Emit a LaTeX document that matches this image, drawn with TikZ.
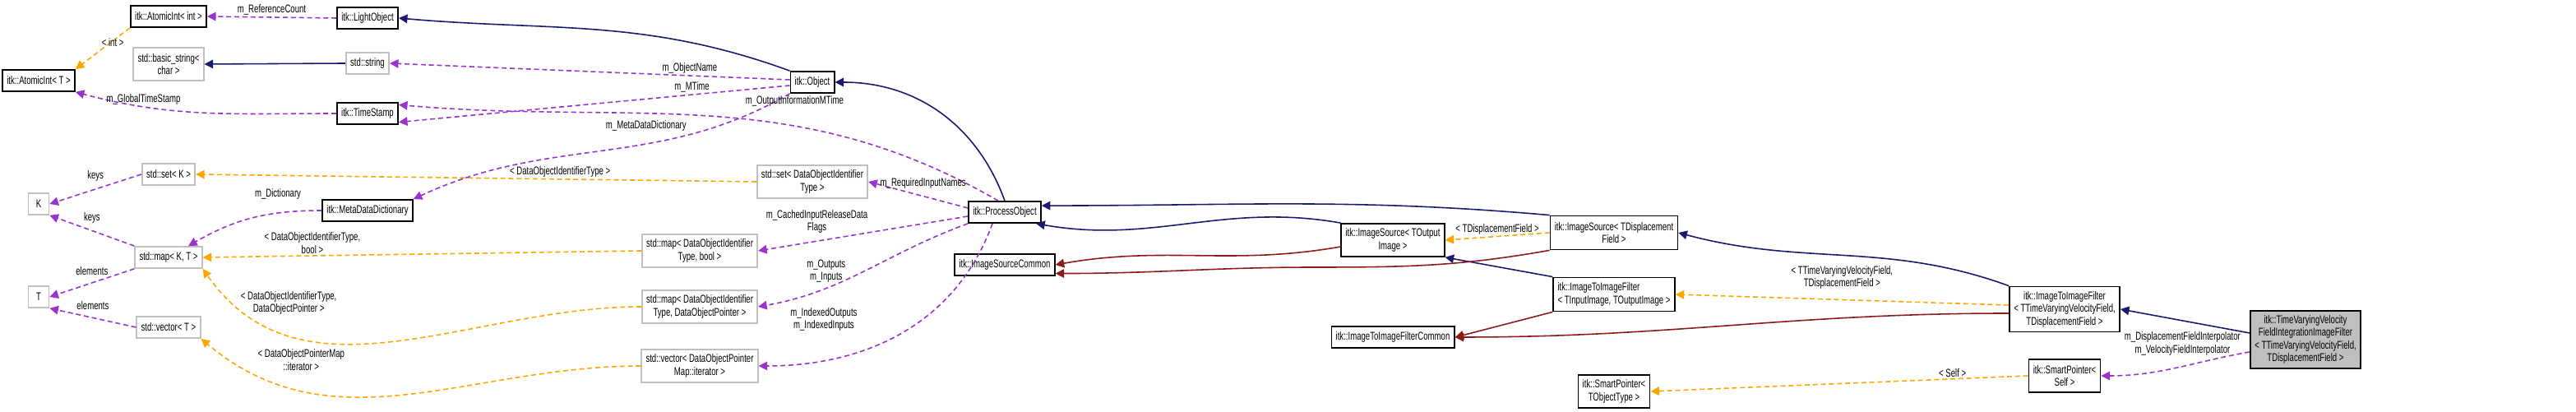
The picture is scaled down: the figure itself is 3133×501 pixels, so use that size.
\documentclass[tikz,border=0pt]{standalone}
\usepackage{fontspec}
\setmainfont{Liberation Sans}[FakeStretch=0.7]
\usetikzlibrary{arrows.meta,positioning}
\definecolor{mypurple}{HTML}{9A32CD}
\definecolor{myorange}{HTML}{FFA500}
\definecolor{mynavy}{HTML}{191970}
\definecolor{myred}{HTML}{8B1A1A}
\tikzset{
  cls/.style={draw=black, line width=0.5pt, fill=white, inner sep=1.5pt, align=center, minimum height=0.26cm,
    font=\fontsize{3.9}{4.4}\selectfont},
  ext/.style={cls, draw=black!25},
  lbl/.style={align=center, font=\fontsize{3.9}{4.4}\selectfont, inner sep=0.5pt},
  use/.style={draw=mypurple, dash pattern=on 1.7pt off 1.1pt, line width=0.45pt, -{Triangle[length=3pt,width=3pt]}},
  tmpl/.style={draw=myorange, dash pattern=on 1.7pt off 1.1pt, line width=0.45pt, -{Triangle[length=3pt,width=3pt]}},
  pub/.style={draw=mynavy, line width=0.45pt, -{Triangle[length=3pt,width=3pt]}},
  prot/.style={draw=myred, line width=0.45pt, -{Triangle[length=3pt,width=3pt]}},
}
\begin{document}
\begin{tikzpicture}[x=0.01cm, y=-0.01cm]
  \useasboundingbox (0,0) rectangle (3133,501);

  % left column
  \node[cls, minimum width=0.87cm] (atomicT) at (47,98) {itk::AtomicInt< T >};
  \node[ext, minimum width=0.25cm] (K) at (47,248) {K};
  \node[ext, minimum width=0.25cm] (T) at (47,361) {T};

  \node[cls, minimum width=0.91cm] (atomicint) at (205,20) {itk::AtomicInt< int >};
  \node[ext, minimum width=0.83cm, minimum height=0.40cm] (bstring) at (205,78) {std::basic\_string<\\char >};
  \node[ext, minimum width=0.64cm] (setK) at (205,212) {std::set< K >};
  \node[ext, minimum width=0.81cm] (mapKT) at (205,313) {std::map< K, T >};
  \node[ext, minimum width=0.76cm] (vecT) at (205,398) {std::vector< T >};

  \node[cls, minimum width=0.72cm] (light) at (447,22) {itk::LightObject};
  \node[ext, minimum width=0.52cm] (string) at (447,77) {std::string};
  \node[cls, minimum width=0.72cm] (stamp) at (447,138) {itk::TimeStamp};
  \node[cls, minimum width=1.05cm] (meta) at (447,256) {itk::MetaDataDictionary};

  % middle column
  \node[ext, minimum width=1.24cm, minimum height=0.40cm] (mapbool) at (851,305) {std::map< DataObjectIdentifier\\Type, bool >};
  \node[ext, minimum width=1.24cm, minimum height=0.40cm] (mapptr) at (851,373) {std::map< DataObjectIdentifier\\Type, DataObjectPointer >};
  \node[ext, minimum width=1.24cm, minimum height=0.40cm] (vecmap) at (851,445) {std::vector< DataObjectPointer\\Map::iterator >};

  \node[cls, minimum width=0.50cm] (object) at (988,100) {itk::Object};
  \node[ext, minimum width=1.20cm, minimum height=0.40cm] (setid) at (988,221) {std::set< DataObjectIdentifier\\Type >};

  \node[cls, minimum width=0.80cm] (process) at (1222,258) {itk::ProcessObject};
  \node[cls, minimum width=1.08cm] (srccommon) at (1222,322) {itk::ImageSourceCommon};

  % right part
  \node[cls, minimum width=1.18cm, minimum height=0.40cm] (srcout) at (1694,292) {itk::ImageSource< TOutput\\Image >};
  \node[cls, minimum width=1.40cm] (filtcommon) at (1694,410) {itk::ImageToImageFilterCommon};

  \node[cls, minimum width=1.44cm, minimum height=0.41cm] (srcdisp) at (1963,283) {itk::ImageSource< TDisplacement\\Field >};
  \node[cls, minimum width=1.38cm, minimum height=0.41cm, align=left] (filtio) at (1963,358) {itk::ImageToImageFilter\\< TInputImage, TOutputImage >};
  \node[cls, minimum width=0.84cm, minimum height=0.40cm] (smartT) at (1963,476) {itk::SmartPointer<\\TObjectType >};

  \node[cls, minimum width=1.30cm, minimum height=0.55cm] (filtvel) at (2511,376) {itk::ImageToImageFilter\\< TTimeVaryingVelocityField,\\TDisplacementField >};
  \node[cls, minimum width=0.85cm, minimum height=0.40cm] (smartself) at (2511,457) {itk::SmartPointer<\\Self >};

  \node[cls, fill=black!25, minimum width=1.30cm, minimum height=0.70cm] (main) at (2804,413) {itk::TimeVaryingVelocity\\FieldIntegrationImageFilter\\< TTimeVaryingVelocityField,\\TDisplacementField >};

  % inheritance
  \draw[pub] (object.north west) to[out=160, in=-5] (light.east);
  \draw[pub] (string.west) -- (bstring.east);
  \draw[pub] (process.north) to[out=110, in=0] (object.east);
  \draw[pub] (srcdisp.north west) to[out=175, in=0] (process.10);
  \draw[pub] (srcout.north west) to[out=170, in=-10] (process.-20);
  \draw[pub] (filtio.north west) -- (srcout.south east);
  \draw[pub] (filtvel.north west) to[out=160, in=-15] (srcdisp.east);
  \draw[pub] (main.west) ++(0,-8) -- (filtvel.east);
  \draw[prot] (srcout.west) ++(0,8) to[out=190, in=10] (srccommon.east);
  \draw[prot] (srcdisp.south west) to[out=190, in=0] (1600,325) to[out=180, in=0] ([yshift=-3]srccommon.east);
  \draw[prot] (filtio.south west) -- ([yshift=-4]filtcommon.north east);
  \draw[prot] (filtvel.west) ++(0,5) to[out=180, in=0] (filtcommon.east);

  % templates
  \draw[tmpl] (atomicint.south west) -- node[lbl, above left=0pt and -8pt] {< int >} (atomicT.north east);
  \draw[tmpl] (setid.west) -- node[lbl, pos=0.35, above] {< DataObjectIdentifierType >} (setK.east);
  \draw[tmpl] (mapbool.west) -- node[lbl, pos=0.75, above] {< DataObjectIdentifierType,\\bool >} (mapKT.east);
  \draw[tmpl] (mapptr.west) to[out=180, in=-55] node[lbl, pos=0.75, above=6pt] {< DataObjectIdentifierType,\\DataObjectPointer >} (mapKT.south east);
  \draw[tmpl] (vecmap.west) to[out=180, in=-40] node[lbl, pos=0.75, above=6pt] {< DataObjectPointerMap\\::iterator >} (vecT.south east);
  \draw[tmpl] (srcdisp.west) -- node[lbl, above] {< TDisplacementField >} (srcout.east);
  \draw[tmpl] (filtvel.west) ++(0,-5) -- node[lbl, above=3pt] {< TTimeVaryingVelocityField,\\TDisplacementField >} (filtio.east);
  \draw[tmpl] (smartself.west) -- node[lbl, pos=0.2, above] {< Self >} (smartT.east);

  % members
  \draw[use] (light.west) -- node[lbl, above] {m\_ReferenceCount} (atomicint.east);
  \draw[use] (object.west) ++(0,-3) -- node[lbl, pos=0.25, above] {m\_ObjectName} (string.east);
  \draw[use] (object.west) ++(0,4) -- node[lbl, pos=0.25, above] {m\_MTime} ([yshift=-3]stamp.east);
  \draw[use] (stamp.west) to[out=180, in=-15] node[lbl, pos=0.75, above] {m\_GlobalTimeStamp} (atomicT.south east);
  \draw[use] (object.south west) to[out=-150, in=25] node[lbl, pos=0.22, above left=-1pt and 6pt] {m\_MetaDataDictionary} (meta.north east);
  \draw[use] (process.north) ++(-8,0) to[out=150, in=-5] node[lbl, pos=0.35, above=6pt] {m\_OutputInformationMTime} ([yshift=3]stamp.east);
  \draw[use] (meta.west) to[out=180, in=30] node[lbl, pos=0.3, above=4pt] {m\_Dictionary} ([xshift=-5]mapKT.north east);
  \draw[use] (setK.west) -- node[lbl, above=2pt] {keys} (K.east);
  \draw[use] (mapKT.north west) -- node[lbl, above=2pt] {keys} (K.south east);
  \draw[use] (mapKT.south west) -- node[lbl, above=2pt] {elements} (T.east);
  \draw[use] (vecT.west) -- node[lbl, above=2pt] {elements} (T.south east);
  \draw[use] (process.west) ++(0,-5) -- node[lbl, pos=0.45, above=2pt] {m\_RequiredInputNames} (setid.east);
  \draw[use] (process.west) ++(0,5) -- node[lbl, pos=0.72, above=2pt] {m\_CachedInputReleaseData\\Flags} (mapbool.east);
  \draw[use] (process.south west) to[out=200, in=10] node[lbl, pos=0.7, above=1pt] {m\_Outputs\\m\_Inputs} (mapptr.east);
  \draw[use] (process.south) ++(-15,0) to[out=250, in=0] node[lbl, pos=0.6, above left=4pt and 6pt] {m\_IndexedOutputs\\m\_IndexedInputs} (vecmap.east);
  \draw[use] (main.west) ++(0,15) to[out=190, in=0] node[lbl, pos=0.45, above=3pt] {m\_DisplacementFieldInterpolator\\m\_VelocityFieldInterpolator} (smartself.east);
\end{tikzpicture}
\end{document}
